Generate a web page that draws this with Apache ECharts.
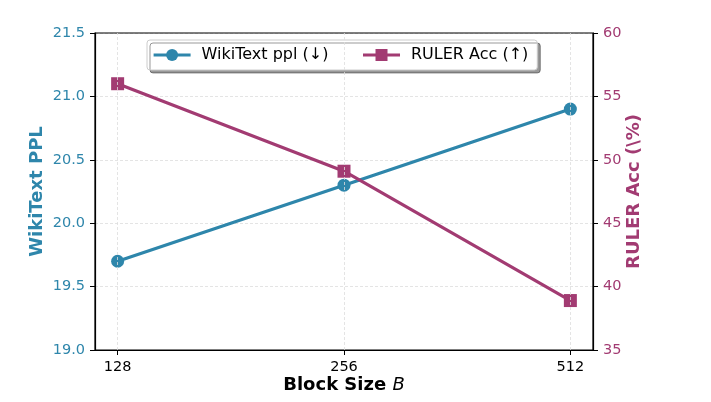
<!DOCTYPE html>
<html><head><meta charset="utf-8">
<script src="https://cdn.jsdelivr.net/npm/echarts@6/dist/echarts.min.js"></script>
<style>html,body{margin:0;padding:0;background:#fff}#c{width:711px;height:402px}</style>
</head><body><div id="c"></div>
<script>
const blockSizes = ['128', '256', '512'];
const wikiPpl = [19.7, 20.3, 20.9];
const rulerAcc = [56.0, 49.1, 38.9];
const leftTicks = [19.0, 19.5, 20.0, 20.5, 21.0, 21.5];
const rightTicks = [35, 40, 45, 50, 55, 60];

const BLUE = '#2E86AB', MAG = '#A23B72';
const FONT = 'DejaVu Sans';
const idx = blockSizes.map((_, i) => i);

const chart = echarts.init(document.getElementById('c'), null, {renderer: 'canvas'});
chart.setOption({
  animation: false,
  textStyle: {fontFamily: FONT},
  grid: {left: 95, right: 118, top: 33, bottom: 52, show: false, containLabel: false, outerBoundsMode: 'none'},
  legend: {
    top: 40, left: 147, itemGap: 33, itemWidth: 37, itemHeight: 15,
    padding: [7, 9, 7, 5],
    backgroundColor: '#fff', borderColor: '#ccc', borderWidth: 1, borderRadius: 3,
    shadowColor: 'rgba(0,0,0,0.4)', shadowOffsetX: 3, shadowOffsetY: 3, shadowBlur: 0,
    lineStyle: {width: 3.2},
    textStyle: {fontFamily: FONT, fontSize: 16, color: '#000', padding: [0, 0, 0, 6]},
    data: ['WikiText ppl (↓)', 'RULER Acc (↑)']
  },
  xAxis: {
    type: 'value', min: -0.1, max: 2.1,
    name: '{b|Block Size }{i|B}', nameLocation: 'middle', nameGap: 26, nameMoveOverlap: false,
    nameTextStyle: {rich: {b: {fontFamily: FONT, fontSize: 18, fontWeight: 'bold', color: '#000'},
                           i: {fontFamily: FONT, fontSize: 18, fontStyle: 'italic', color: '#000'}}},
    axisLine: {show: true, onZero: false, lineStyle: {color: '#000', width: 1.2}},
    axisTick: {show: true, customValues: idx, length: 5, lineStyle: {color: '#000'}},
    axisLabel: {customValues: idx, formatter: v => blockSizes[Math.round(v)], fontSize: 14.5, color: '#000', margin: 10},
    splitLine: {show: false}
  },
  yAxis: [{
    type: 'value', min: leftTicks[0], max: leftTicks[leftTicks.length - 1], interval: 0.5,
    name: 'WikiText PPL', nameLocation: 'middle', nameGap: 49, nameRotate: 90, nameMoveOverlap: false,
    nameTextStyle: {color: BLUE, fontSize: 18, fontWeight: 'bold'},
    axisLine: {show: true, onZero: false, lineStyle: {color: '#000', width: 1.2}},
    axisTick: {show: true, length: 5, lineStyle: {color: '#000'}},
    axisLabel: {formatter: v => v.toFixed(1), color: BLUE, fontSize: 14.5, margin: 10},
    splitLine: {show: true, lineStyle: {color: '#ddd', type: [3, 2], width: 0.8}}
  }, {
    type: 'value', min: rightTicks[0], max: rightTicks[rightTicks.length - 1], interval: 5,
    position: 'right',
    name: 'RULER Acc (\\%)', nameLocation: 'middle', nameGap: 32, nameRotate: 90, nameMoveOverlap: false,
    nameTextStyle: {color: MAG, fontSize: 18, fontWeight: 'bold'},
    axisLine: {show: true, onZero: false, lineStyle: {color: '#000', width: 1.2}},
    axisTick: {show: true, length: 5, lineStyle: {color: '#000'}},
    axisLabel: {color: MAG, fontSize: 14.5, margin: 10},
    splitLine: {show: false}
  }],
  graphic: [{
    type: 'rect', shape: {x: 95, y: 33, width: 498, height: 317},
    style: {fill: 'none', stroke: '#000', lineWidth: 1.2}, silent: true, z: 1
  }],
  series: [{
    name: 'WikiText ppl (↓)', type: 'line', yAxisIndex: 0,
    data: wikiPpl.map((v, i) => [i, v]),
    symbol: 'circle', symbolSize: 13,
    lineStyle: {color: BLUE, width: 3.2}, itemStyle: {color: BLUE},
    markLine: {
      silent: true, symbol: 'none', label: {show: false},
      lineStyle: {color: '#ddd', type: [3, 2], width: 0.8},
      data: idx.map(i => ({xAxis: i}))
    },
    z: 3
  }, {
    name: 'RULER Acc (↑)', type: 'line', yAxisIndex: 1,
    data: rulerAcc.map((v, i) => [i, v]),
    symbol: 'rect', symbolSize: 13,
    lineStyle: {color: MAG, width: 3.2}, itemStyle: {color: MAG},
    z: 3
  }]
});
</script></body></html>
